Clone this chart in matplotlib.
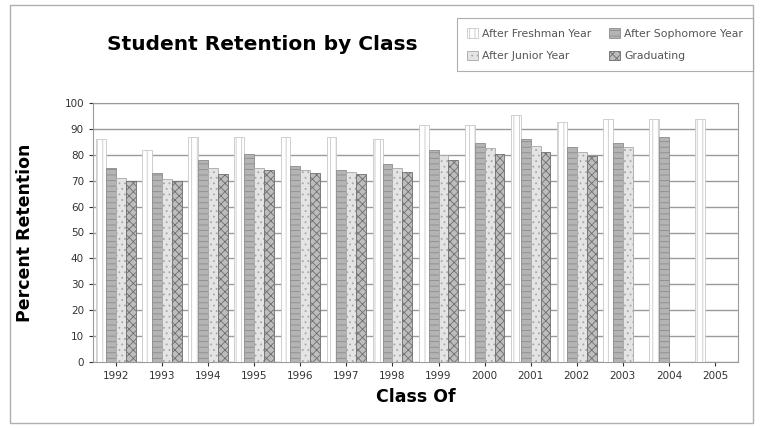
import numpy as np
import matplotlib
matplotlib.use("Agg")
import matplotlib.pyplot as plt
from matplotlib.patches import Rectangle

classes = ["1992", "1993", "1994", "1995", "1996", "1997", "1998",
           "1999", "2000", "2001", "2002", "2003", "2004", "2005"]

after_freshman = [86, 82, 87, 87, 87, 87, 86, 91.5, 91.5, 95.5, 92.5, 94, 94, 94]
after_sophomore = [75, 73, 78, 80.5, 75.5, 74, 76.5, 82, 84.5, 86, 83, 84.5, 87, np.nan]
after_junior = [71, 70.5, 75, 75, 74, 73.5, 75, 80, 82.5, 83.5, 81, 83, np.nan, np.nan]
graduating = [70, 70, 72.5, 74, 73, 72.5, 73.5, 78, 80.5, 81, 79.5, np.nan, np.nan, np.nan]

series = [
    ("After Freshman Year", after_freshman, "white", "|||", "#c8c8c8"),
    ("After Sophomore Year", after_sophomore, "#b4b4b4", "---", "#8c8c8c"),
    ("After Junior Year", after_junior, "#e4e4e4", "...", "#a8a8a8"),
    ("Graduating", graduating, "#bdbdbd", "xxxx", "#6e6e6e"),
]

plt.rcParams["hatch.linewidth"] = 0.6
plt.rcParams["font.family"] = "DejaVu Sans"

fig = plt.figure(figsize=(7.65, 4.28), dpi=100)
ax = fig.add_axes([93 / 765, 66 / 428, 645 / 765, 259 / 428])

x = np.arange(len(classes))
w = 0.215
bars = []
for i, (name, vals, face, hatch, ec) in enumerate(series):
    b = ax.bar(x + (i - 1.5) * w, vals, width=w, color=face, hatch=hatch,
               edgecolor=ec, linewidth=0.6, label=name, zorder=3)
    bars.append(b)

ax.set_xlim(-0.5, len(classes) - 0.5)
ax.set_ylim(0, 100)
ax.set_yticks(range(0, 101, 10))
ax.set_xticks(x)
ax.set_xticklabels(classes)
ax.tick_params(labelsize=7.5, colors="#333333", length=3)
ax.grid(axis="y", color="#9a9a9a", linewidth=1.0, zorder=0)
for s in ax.spines.values():
    s.set_color("#9a9a9a")

ax.set_xlabel("Class Of", fontsize=12.5, fontweight="bold", labelpad=5)
ax.set_ylabel("Percent Retention", fontsize=12.5, fontweight="bold", labelpad=22)

fig.text(262 / 765, 1 - 44 / 428, "Student Retention by Class", fontsize=14.5,
         fontweight="bold", ha="center", va="center")

# row-wise order like the original: Freshman, Sophomore / Junior, Graduating
order = [0, 2, 1, 3]
leg = fig.legend([bars[k] for k in order], [series[k][0] for k in order],
                 loc="upper left", bbox_to_anchor=(452 / 765, 1 - 13 / 428),
                 ncol=2, fontsize=7.8, frameon=True, fancybox=False,
                 handlelength=1.0, handleheight=1.0, handletextpad=0.4,
                 columnspacing=1.6, borderpad=0.9, labelspacing=1.1,
                 edgecolor="#9a9a9a")
leg.get_frame().set_linewidth(0.8)
for t in leg.get_texts():
    t.set_color("#555555")

# outer chart frame
fig.patches.append(Rectangle((10 / 765, 5 / 428), 743 / 765, 418 / 428,
                             transform=fig.transFigure, fill=False,
                             edgecolor="#b0b0b0", linewidth=1.0))

fig.savefig("out.png", dpi=100, facecolor="white")
